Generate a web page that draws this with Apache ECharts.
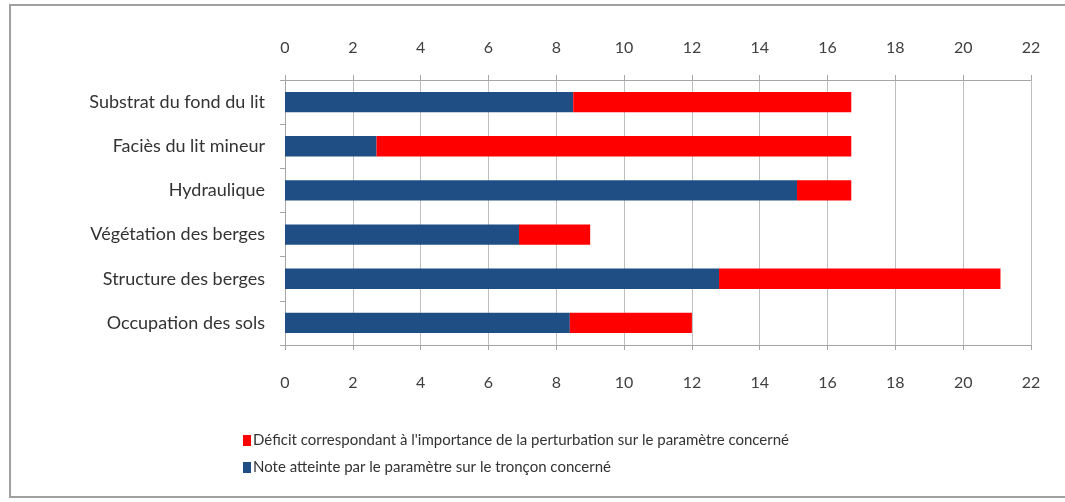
<!DOCTYPE html>
<html>
<head>
<meta charset="utf-8">
<script src="https://cdn.jsdelivr.net/npm/echarts@6/dist/echarts.min.js"></script>
<style>
  html, body { margin: 0; padding: 0; background: #fff; }
  #chart { width: 1065px; height: 502px; }
</style>
</head>
<body>
<div id="chart"></div>
<script>
// paramètres du tronçon, de haut en bas
const categories = [
  'Substrat du fond du lit',
  'Faciès du lit mineur',
  'Hydraulique',
  'Végétation des berges',
  'Structure des berges',
  'Occupation des sols'
]
// note atteinte (bleu)
const noteValues = [8.5, 2.7, 15.1, 6.9, 12.8, 8.4]
// déficit (rouge)
const deficitValues = [8.2, 14.0, 1.6, 2.1, 8.3, 3.6]

const noteName = 'Note atteinte par le paramètre sur le tronçon concerné'
const deficitName = 'Déficit correspondant à l\'importance de la perturbation sur le paramètre concerné'

const chart = echarts.init(document.getElementById('chart'))

const xAxisCommon = {
  type: 'value',
  min: 0,
  max: 22,
  interval: 2,
  axisLine: { show: true, lineStyle: { color: '#a6a6a6' } },
  axisTick: { show: true, length: 5, lineStyle: { color: '#a6a6a6' } },
  axisLabel: { color: '#404040', fontSize: 16, fontFamily: 'Lato', margin: 25 },
  splitLine: { show: true, lineStyle: { color: '#bfbfbf' } }
}

chart.setOption({
  animation: false,
  textStyle: { fontFamily: 'Lato' },
  graphic: [{
    type: 'rect',
    shape: { x: 10, y: 5, width: 1060, height: 492 },
    style: { fill: 'none', stroke: '#a0a0a0', lineWidth: 2 }
  }],
  grid: { left: 285, right: 34, top: 80, bottom: 157 },
  legend: {
    orient: 'vertical',
    left: 238,
    top: 428,
    itemGap: 12,
    itemWidth: 8,
    itemHeight: 11,
    icon: 'rect',
    data: [deficitName, noteName],
    textStyle: { color: '#333', fontSize: 15, fontFamily: 'Lato', padding: [0, 0, 0, -3] }
  },
  xAxis: [
    Object.assign({}, xAxisCommon, { position: 'top', axisLabel: Object.assign({}, xAxisCommon.axisLabel, { margin: 24 }) }),
    Object.assign({}, xAxisCommon, { position: 'bottom', splitLine: { show: false },
      axisLabel: Object.assign({}, xAxisCommon.axisLabel, { margin: 30 }) })
  ],
  yAxis: {
    type: 'category',
    data: categories,
    inverse: true,
    axisLine: { show: true, lineStyle: { color: '#a6a6a6' } },
    axisTick: { show: true, length: 5, lineStyle: { color: '#a6a6a6' } },
    axisLabel: { color: '#333', fontSize: 18, fontFamily: 'Lato', margin: 20 }
  },
  series: [
    {
      name: noteName,
      type: 'bar',
      stack: 'total',
      xAxisIndex: 0,
      barWidth: '46%',
      itemStyle: { color: '#1f4e85' },
      data: noteValues
    },
    {
      name: deficitName,
      type: 'bar',
      stack: 'total',
      xAxisIndex: 0,
      itemStyle: { color: '#ff0000' },
      data: deficitValues
    }
  ]
})
</script>
</body>
</html>
